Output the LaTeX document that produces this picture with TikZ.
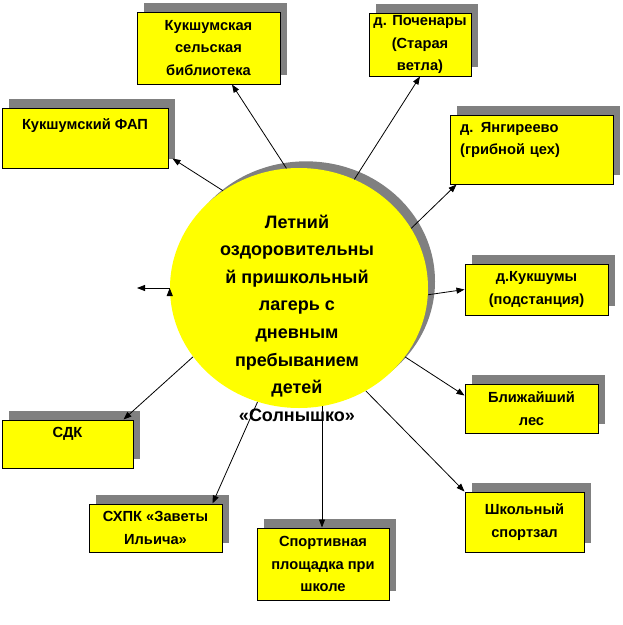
\documentclass[tikz,border=0pt]{standalone}
\usepackage{fontspec}
\setmainfont{Liberation Sans}
\usetikzlibrary{arrows.meta, shapes.geometric, shadows, calc}

\definecolor{gul}{RGB}{255,255,0}
\definecolor{skygge}{RGB}{128,128,128}

\begin{document}
\begin{tikzpicture}[
    x=0.75pt, y=-0.75pt,
    punkt/.style = {rectangle, draw, line width=0.75pt, fill=gul,
        align=center, inner sep=1pt,
        font=\fontsize{11}{16.9}\selectfont\bfseries,
        drop shadow={shadow xshift=5.6pt, shadow yshift=6.4pt,
            fill=skygge, opacity=1}},
    sirkel/.style = {ellipse, fill=gul,
        minimum width=193.5pt, minimum height=180pt,
        drop shadow={shadow xshift=5.25pt, shadow yshift=5pt,
            fill=skygge, opacity=1}},
    pil/.style = {black, line width=0.6pt, -{Triangle[length=6pt, width=4.5pt]}}
    ]
    \fill[white, use as bounding box] (0,0) rectangle (622,625);
    %nodes
    \node[sirkel] (camp) at (299,288) {};
    \node[font=\fontsize{13.5}{20.7}\selectfont\bfseries, align=center]
        (camptxt) at (297,318)
        {Летний\\оздоровительны\\й пришкольный\\лагерь с\\дневным\\пребыванием\\детей\\«Солнышко»};

    \node[punkt, minimum width=107.25pt, minimum height=54pt] (bibl)
        at (208.5,48) {Кукшумская\\сельская\\библиотека};
    \node[punkt, minimum width=76.5pt, minimum height=47.25pt] (poch)
        at (420,44.5) {д. Поченары\\(Старая\\ветла)};
    \node[punkt, minimum width=124.5pt, minimum height=45pt] (fap)
        at (85,138) {Кукшумский ФАП\\[4pt]\mbox{}};
    \node[punkt, minimum width=122.25pt, minimum height=51.75pt,
        text width=107pt, align=left] (yang)
        at (531.5,149.5) {д. Янгиреево\\(грибной цех)\\\mbox{}};
    \node[punkt, minimum width=107.25pt, minimum height=38.25pt] (kuksh)
        at (536.5,289.5) {д.Кукшумы\\(подстанция)};
    \node[punkt, minimum width=99.75pt, minimum height=36.75pt] (les)
        at (531.5,408.5) {Ближайший\\лес};
    \node[punkt, minimum width=89.25pt, minimum height=45pt] (sportzal)
        at (524.5,522) {Школьный\\спортзал};
    \node[punkt, minimum width=99pt, minimum height=54pt] (plosh)
        at (323,564) {Спортивная\\площадка при\\школе};
    \node[punkt, minimum width=99.75pt, minimum height=36pt] (shpk)
        at (155.5,528) {СХПК «Заветы\\Ильича»};
    \node[punkt, minimum width=98.25pt, minimum height=36pt] (sdk)
        at (67.5,444) {СДК\\\mbox{}};
    \coordinate (venstre) at (137,288);

    % edges
    \draw[pil] (camp.96.8) edge ($(bibl.south)+(23.5,0)$)
    (camp.63.9) edge (poch.south)
    (camp.128.7) edge ($(fap.south east)+(4,-10)$)
    (camp.28.4) edge ($(yang.south west)+(7,0)$)
    (camp.-3) edge (kuksh.west)
    (camp.-33.7) edge ($(les.west)+(0,-13)$)
    (camp.-57) edge (sportzal.north west)
    (camp.-79.4) edge (camp.-79.4 |- plosh.north)
    (camp.250.2) edge ($(shpk.north east)+(-10,0)$)
    (camp.213.9) edge ($(sdk.north east)+(-10,0)$)
    (camp.west) edge (venstre);
\end{tikzpicture}
\end{document}
